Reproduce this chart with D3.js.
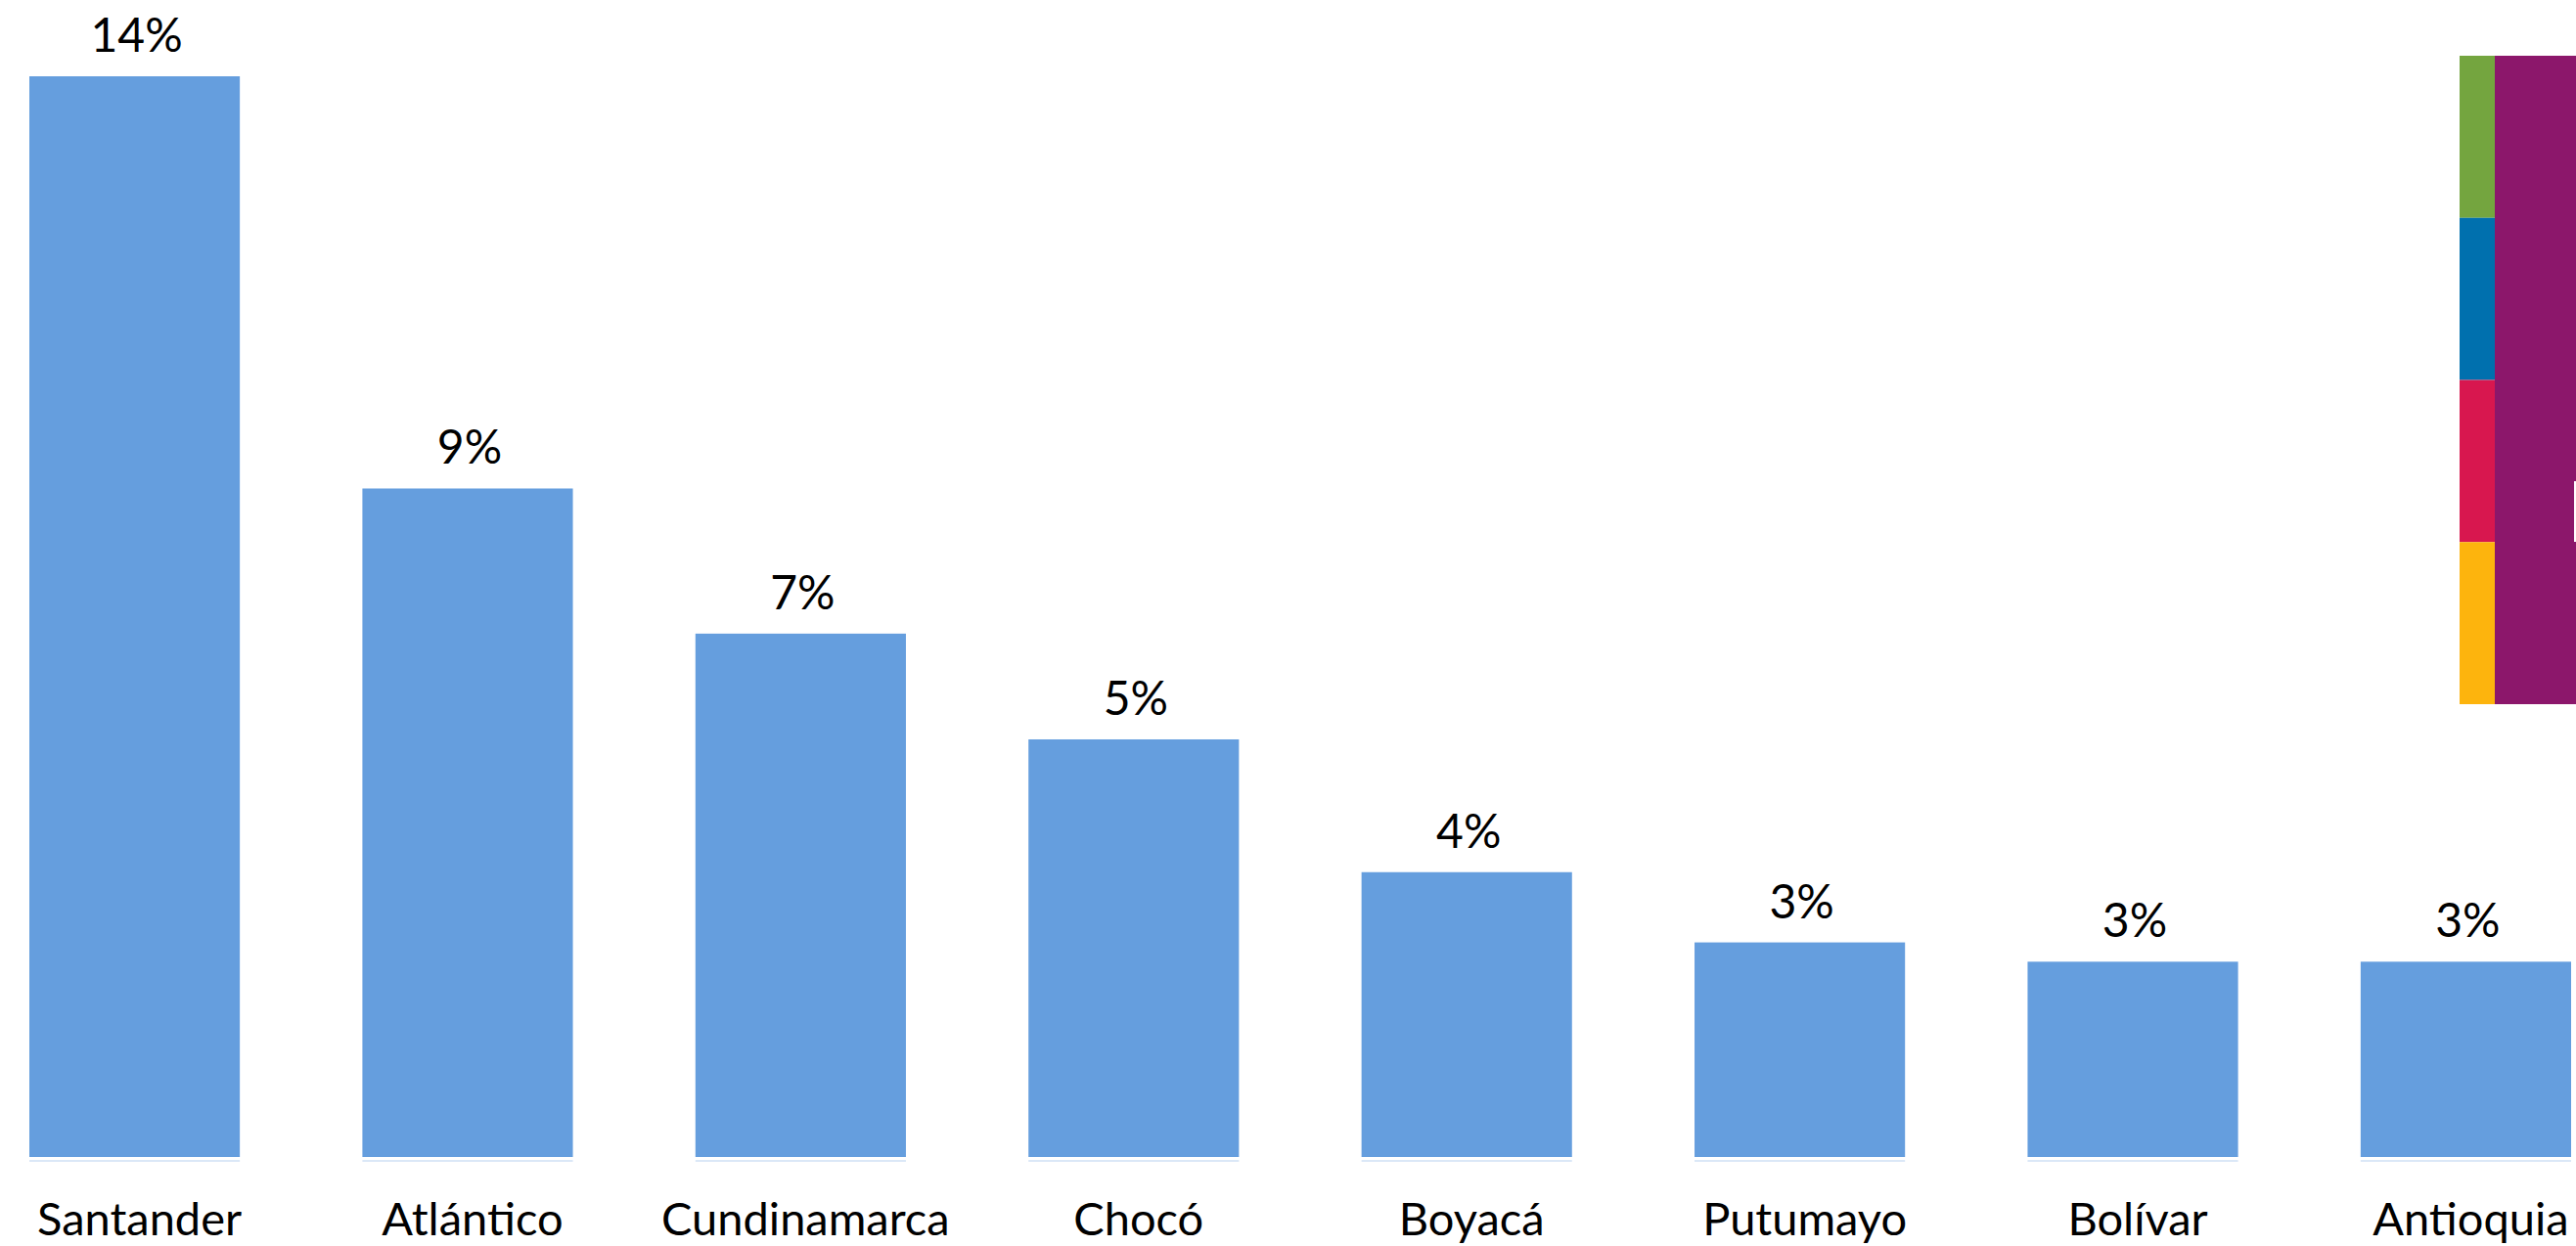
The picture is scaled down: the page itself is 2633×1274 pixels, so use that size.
<!DOCTYPE html>
<html>
<head>
<meta charset="utf-8">
<script src="https://cdn.jsdelivr.net/npm/d3@7"></script>
<style>
  body { margin: 0; background: #ffffff; }
  #canvas { width: 2633px; height: 1274px; overflow: hidden; }
</style>
</head>
<body>
<div id="canvas"></div>
<script>
// data
var departments = ['Santander', 'Atlántico', 'Cundinamarca', 'Chocó', 'Boyacá', 'Putumayo', 'Bolívar', 'Antioquia'];
var shares = [0.140, 0.0866, 0.0678, 0.0541, 0.0369, 0.0278, 0.0253, 0.0253];

// coloured strip on the right edge (top to bottom)
var stripColors = ['#74a53f', '#0070ae', '#d8174f', '#fdb40d'];

var Chart = function () {
  var self = this;
  var svg;
  var W = 2633, H = 1274;
  var base = 1183;

  var createSvg = function() {
    svg = d3.select('#canvas').append('svg')
      .attr('width', W)
      .attr('height', H);
  };
  createSvg();

  var x = d3.scaleBand()
    .domain(departments)
    .range([30, 2628])
    .paddingInner(0.368)
    .paddingOuter(0);

  var y = d3.scaleLinear()
    .domain([0, 0.14])
    .range([base, 78]);

  var rows = departments.map(function (d, i) { return { name: d, v: shares[i] }; });
  var fmt = d3.format('.0%');

  self.drawBars = function() {
    svg.selectAll('rect.bar').data(rows)
      .enter().append('rect')
      .attr('class', 'bar')
      .attr('x', function (d) { return x(d.name); })
      .attr('y', function (d) { return y(d.v); })
      .attr('width', x.bandwidth())
      .attr('height', function (d) { return base - y(d.v); })
      .attr('fill', '#659ede');

    // thin light line under each bar
    svg.selectAll('line.base').data(rows)
      .enter().append('line')
      .attr('class', 'base')
      .attr('x1', function (d) { return x(d.name); })
      .attr('x2', function (d) { return x(d.name) + x.bandwidth(); })
      .attr('y1', base + 4)
      .attr('y2', base + 4)
      .attr('stroke', '#dbe8f7')
      .attr('stroke-width', 2);
  };

  self.drawLabels = function() {
    svg.selectAll('text.val').data(rows)
      .enter().append('text')
      .attr('class', 'val')
      .attr('x', function (d) { return x(d.name) + x.bandwidth() / 2 + 2; })
      .attr('y', function (d) { return y(d.v) - 25; })
      .attr('text-anchor', 'middle')
      .attr('font-family', 'Lato, "Open Sans", sans-serif')
      .attr('font-size', 48)
      .attr('fill', '#000')
      .text(function (d) { return fmt(d.v); });

    svg.selectAll('text.cat').data(rows)
      .enter().append('text')
      .attr('class', 'cat')
      .attr('x', function (d) { return x(d.name) + x.bandwidth() / 2 + 5; })
      .attr('y', 1263)
      .attr('text-anchor', 'middle')
      .attr('font-family', 'Lato, "Open Sans", sans-serif')
      .attr('font-size', 47)
      .attr('fill', '#000')
      .text(function (d) { return d.name; });
  };

  self.drawStrip = function() {
    var sy = d3.scaleBand().domain(d3.range(stripColors.length)).range([57, 720]);
    svg.append('rect')
      .attr('x', 2550).attr('y', 57)
      .attr('width', W - 2550).attr('height', 663)
      .attr('fill', '#8c176b');
    svg.selectAll('rect.strip').data(stripColors)
      .enter().append('rect')
      .attr('class', 'strip')
      .attr('x', 2514)
      .attr('y', function (d, i) { return sy(i); })
      .attr('width', 36)
      .attr('height', sy.bandwidth())
      .attr('fill', function (d) { return d; });
    // tiny white edge peeking in at the right
    svg.append('rect')
      .attr('x', 2631).attr('y', 492)
      .attr('width', 2).attr('height', 62)
      .attr('fill', '#ffffff');
  };

  self.drawBars();
  self.drawLabels();
  self.drawStrip();
};

new Chart();
</script>
</body>
</html>
